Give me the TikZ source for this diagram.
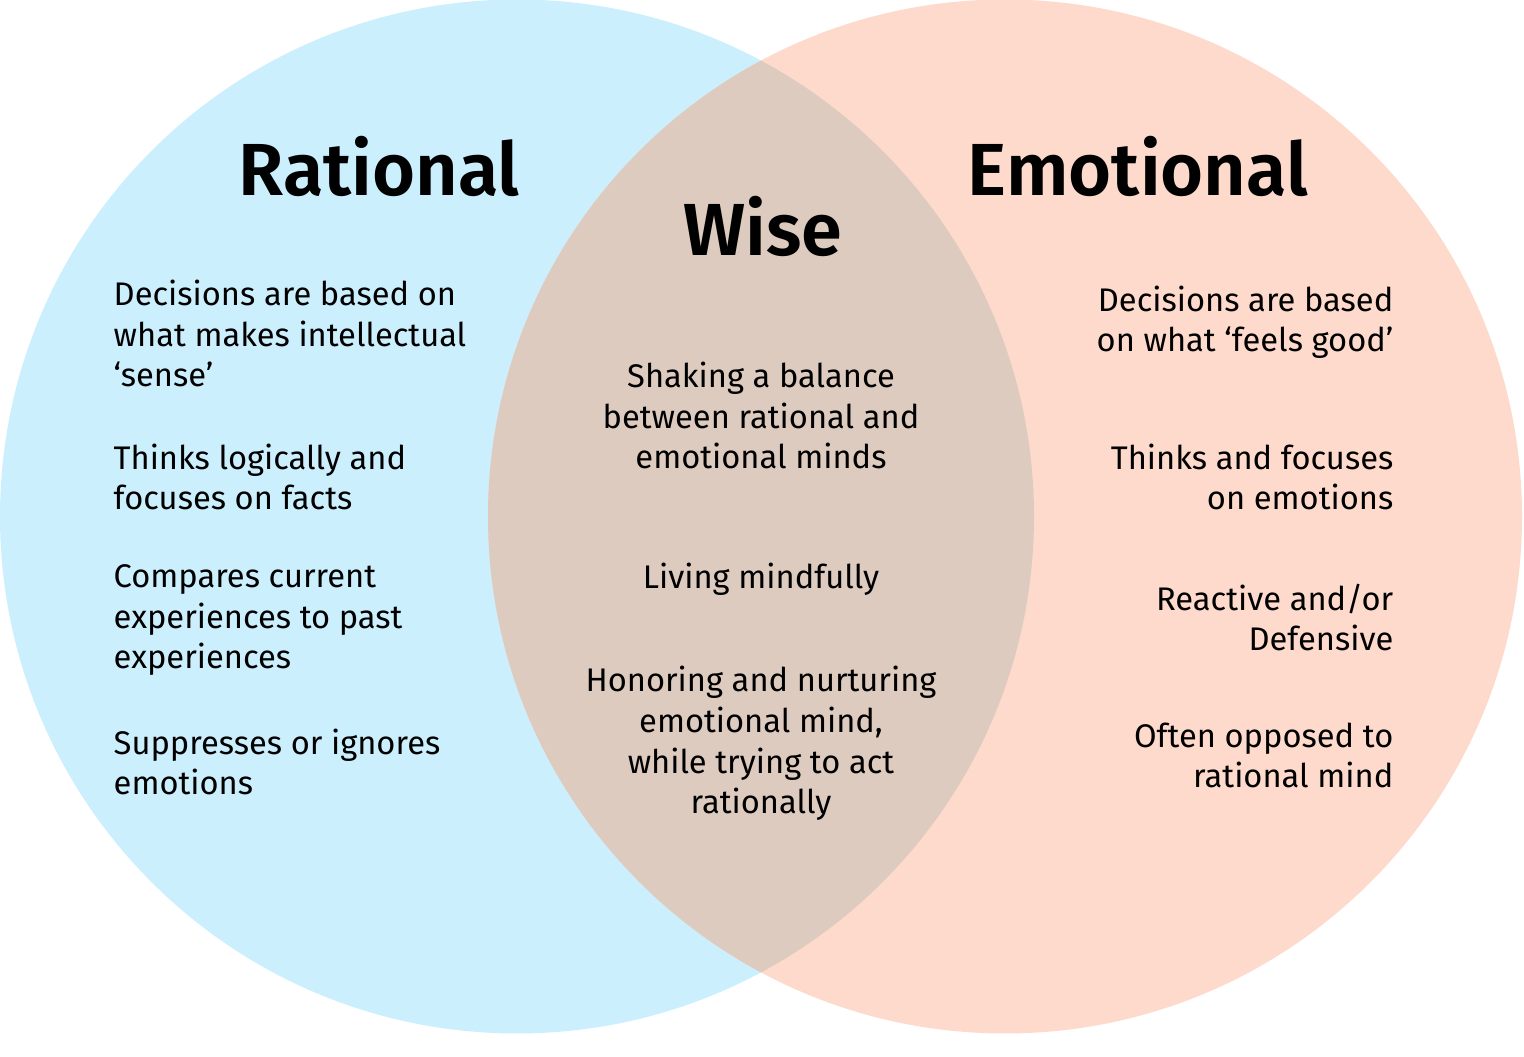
\documentclass[tikz,border=0pt]{standalone}
\usepackage{fontspec}
\setmainfont{Fira Sans}
\newfontfamily\ttlfont{Fira Sans SemiBold}
\definecolor{ratblue}{HTML}{CBEFFD}
\definecolor{emopeach}{HTML}{FDDACB}
\definecolor{wisetan}{HTML}{DDCBC0}

\begin{document}
\begin{tikzpicture}
[ttl/.style={font=\fontsize{21}{25}\ttlfont,anchor=base,inner sep=0pt}
,txt/.style={font=\fontsize{9.3}{11.66}\selectfont,inner sep=0pt}
,lt/.style={txt,align=left,anchor=base west}
,ct/.style={txt,align=center,anchor=base}
,rt/.style={txt,align=right,anchor=base east}
]
\useasboundingbox (0,0) rectangle (15.24,10.57);
\coordinate (cr) at (5.17,5.405);
\coordinate (ce) at (10.05,5.405);
\fill[ratblue] (cr) circle (5.17);
\fill[emopeach] (ce) circle (5.17);
\begin{scope}
\clip (cr) circle (5.17);
\fill[wisetan] (ce) circle (5.17);
\end{scope}
% titles
\node[ttl] (rat) at (3.79,8.61) {Rational};
\node[ttl] (emo) at (11.38,8.61) {Emotional};
\node[ttl] (wise) at (7.63,8.01) {Wise};
% rational mind (anchored at last baseline)
\node[lt] (r1) at (1.13,6.70) {Decisions are based on\\what makes intellectual\\‘sense’};
\node[lt] (r2) at (1.13,5.47) {Thinks logically and\\focuses on facts};
\node[lt] (r3) at (1.13,3.88) {Compares current\\experiences to past\\experiences};
\node[lt] (r4) at (1.13,2.62) {Suppresses or ignores\\emotions};
% wise mind
\node[ct] (w1) at (7.61,5.88) {Shaking a balance\\between rational and\\emotional minds};
\node[ct] (w2) at (7.61,4.68) {Living mindfully};
\node[ct] (w3) at (7.61,2.43) {Honoring and nurturing\\emotional mind,\\while trying to act\\rationally};
% emotional mind
\node[rt] (e1) at (13.94,7.05) {Decisions are based\\on what ‘feels good’};
\node[rt] (e2) at (13.94,5.47) {Thinks and focuses\\on emotions};
\node[rt] (e3) at (13.94,4.06) {Reactive and/or\\Defensive};
\node[rt] (e4) at (13.94,2.69) {Often opposed to\\rational mind};
\end{tikzpicture}
\end{document}
